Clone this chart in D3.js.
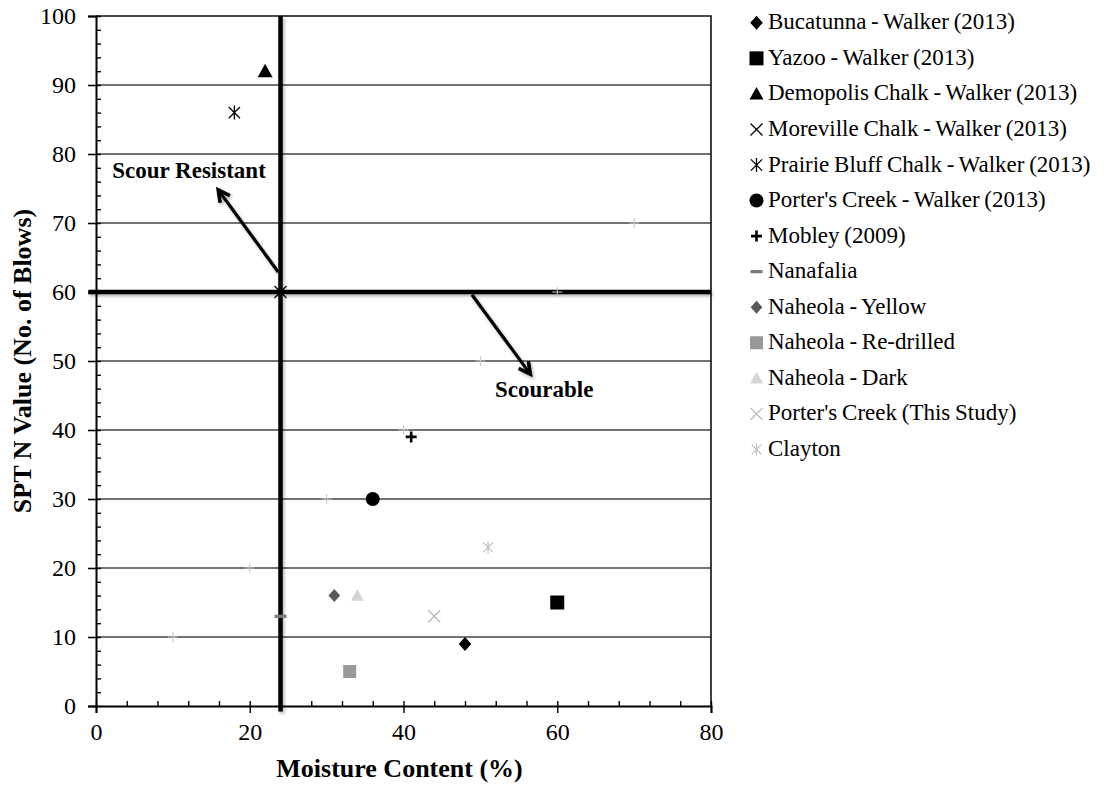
<!DOCTYPE html>
<html>
<head>
<meta charset="utf-8">
<script src="https://cdn.jsdelivr.net/npm/d3@7"></script>
<style>
  html, body { margin: 0; padding: 0; background: #fff; }
  svg { display: block; }
  text { font-family: "Liberation Serif", "Times New Roman", "DejaVu Serif", serif; fill: #000; }
</style>
</head>
<body>
<svg id="chart" width="1107" height="785"></svg>
<script>
// ---------------- DATA ----------------
const seriesNames = [
  "Bucatunna - Walker (2013)",
  "Yazoo - Walker (2013)",
  "Demopolis Chalk - Walker (2013)",
  "Moreville Chalk - Walker (2013)",
  "Prairie Bluff Chalk - Walker (2013)",
  "Porter's Creek - Walker (2013)",
  "Mobley (2009)",
  "Nanafalia",
  "Naheola - Yellow",
  "Naheola - Re-drilled",
  "Naheola - Dark",
  "Porter's Creek (This Study)",
  "Clayton"
];
const seriesMoisture = [[48], [60], [22], [24], [18], [36], [41], [24], [31], [33], [34], [44], [51]];
const seriesSpt      = [[9],  [15], [92], [60], [86], [30], [39], [13], [16], [5],  [16], [13], [23]];

// faint unlabeled reference markers (1:1)
const refMoisture = [10, 20, 30, 40, 50, 60, 70];
const refSpt      = [10, 20, 30, 40, 50, 60, 70];

const xTicks = [0, 20, 40, 60, 80];
const yTicks = [0, 10, 20, 30, 40, 50, 60, 70, 80, 90, 100];
const xTitle = "Moisture Content (%)";
const yTitle = "SPT N Value (No. of Blows)";

const moistureThreshold = 24;
const sptThreshold = 60;

const annotationLabels = ["Scour Resistant", "Scourable"];
const annotationAt = [[12.1, 76.5], [58.3, 44.8]];
const arrowFrom = [[23.7, 62.9], [48.9, 59.6]];
const arrowTo   = [[15.9, 74.8], [56.5, 48.1]];

// ---------------- STYLES ----------------
const seriesStyle = [
  {type: "diamond",  size: 14, color: "#000"},
  {type: "square",   size: 14, color: "#000"},
  {type: "triangle", size: 15, color: "#000"},
  {type: "x",        size: 12, color: "#000"},
  {type: "asterisk", size: 14, color: "#000"},
  {type: "circle",   size: 14, color: "#000"},
  {type: "plus",     size: 11, color: "#000"},
  {type: "dash",     size: 12, color: "#7a7a7a"},
  {type: "diamond",  size: 13, color: "#595959"},
  {type: "square",   size: 13, color: "#999999"},
  {type: "triangle", size: 13, color: "#d6d6d6"},
  {type: "x",        size: 12, color: "#b8b8b8"},
  {type: "asterisk", size: 12, color: "#c4c4c4"}
];

const svg = d3.select("#chart");
const L = 96, R = 711, T = 16, B = 706;
const x = d3.scaleLinear().domain([0, 80]).range([L, R]);
const y = d3.scaleLinear().domain([0, 100]).range([B, T]);

const defs = svg.append("defs");
const f = defs.append("filter").attr("id", "shadow").attr("x", "-10%").attr("y", "-10%").attr("width", "120%").attr("height", "120%");
f.append("feDropShadow").attr("dx", 1.5).attr("dy", 2).attr("stdDeviation", 1.5).attr("flood-color", "#000").attr("flood-opacity", 0.3);

function drawMarker(g, type, s, color) {
  const h = s / 2;
  switch (type) {
    case "diamond":
      g.append("path").attr("d", `M0,${-h}L${h*0.9},0L0,${h}L${-h*0.9},0Z`).attr("fill", color);
      break;
    case "square":
      g.append("rect").attr("x", -h).attr("y", -h).attr("width", s).attr("height", s).attr("fill", color);
      break;
    case "triangle":
      g.append("path").attr("d", `M0,${-h}L${h},${h*0.8}L${-h},${h*0.8}Z`).attr("fill", color);
      break;
    case "circle":
      g.append("circle").attr("r", h).attr("fill", color);
      break;
    case "x":
      g.append("path").attr("d", `M${-h},${-h}L${h},${h}M${-h},${h}L${h},${-h}`).attr("stroke", color).attr("stroke-width", 1.3).attr("fill", "none");
      break;
    case "asterisk":
      g.append("path").attr("d", `M${-h*0.8},${-h*0.8}L${h*0.8},${h*0.8}M${-h*0.8},${h*0.8}L${h*0.8},${-h*0.8}M0,${-h}L0,${h}`).attr("stroke", color).attr("stroke-width", 1.3).attr("fill", "none");
      break;
    case "plus":
      g.append("path").attr("d", `M${-h},0L${h},0M0,${-h}L0,${h}`).attr("stroke", color).attr("stroke-width", 2.6).attr("fill", "none");
      break;
    case "dash":
      g.append("path").attr("d", `M${-h},0L${h},0`).attr("stroke", color).attr("stroke-width", 3.2).attr("fill", "none");
      break;
    case "thinplus":
      g.append("path").attr("d", `M${-h},0L${h},0M0,${-h}L0,${h}`).attr("stroke", color).attr("stroke-width", 1).attr("fill", "none");
      break;
  }
}

// ---------------- GRID ----------------
svg.append("g").selectAll("line").data(yTicks.filter(v => v > 0 && v < 100)).join("line")
  .attr("x1", L).attr("x2", R).attr("y1", d => y(d)).attr("y2", d => y(d))
  .attr("stroke", "#444").attr("stroke-width", 1.4);

// border top and right
svg.append("path").attr("d", `M${L},${y(100)}L${R},${y(100)}L${R},${B}`)
  .attr("fill", "none").attr("stroke", "#111").attr("stroke-width", 1.6);

// ---------------- AXES ----------------
const minorY = d3.range(0, 101, 2);
const minorX = d3.range(0, 81, 4);
const serif = '"Liberation Serif","Times New Roman",serif';

const yAxis = svg.append("g").attr("transform", `translate(${L},0)`)
  .call(d3.axisLeft(y).tickValues(yTicks).tickSize(8).tickPadding(12).tickFormat(d3.format("d")));
yAxis.attr("font-family", null);
yAxis.select(".domain").attr("stroke", "#000").attr("stroke-width", 2);
yAxis.selectAll(".tick line").attr("stroke", "#000").attr("stroke-width", 1.6);
yAxis.selectAll("text").attr("font-size", 24).style("font-family", serif);

const yMinor = svg.append("g").attr("transform", `translate(${L},0)`)
  .call(d3.axisRight(y).tickValues(minorY).tickSize(5).tickFormat(""));
yMinor.select(".domain").remove();
yMinor.selectAll(".tick line").attr("stroke", "#000").attr("stroke-width", 1.4);

const xAxis = svg.append("g").attr("transform", `translate(0,${B})`)
  .call(d3.axisBottom(x).tickValues(xTicks).tickSize(7).tickPadding(10).tickFormat(d3.format("d")));
xAxis.attr("font-family", null);
xAxis.select(".domain").attr("stroke", "#000").attr("stroke-width", 2);
xAxis.selectAll(".tick line").attr("stroke", "#000").attr("stroke-width", 1.4);
xAxis.selectAll("text").attr("font-size", 24).style("font-family", serif);

const xMinor = svg.append("g").attr("transform", `translate(0,${B})`)
  .call(d3.axisTop(x).tickValues(minorX).tickSize(5).tickFormat(""));
xMinor.select(".domain").remove();
xMinor.selectAll(".tick line").attr("stroke", "#000").attr("stroke-width", 1.4);

// ---------------- THRESHOLD LINES ----------------
const thr = svg.append("g").attr("filter", "url(#shadow)");
thr.append("line")
  .attr("x1", x(-1)).attr("x2", x(80)).attr("y1", y(sptThreshold)).attr("y2", y(sptThreshold))
  .attr("stroke", "#000").attr("stroke-width", 4.5);
thr.append("line")
  .attr("x1", x(moistureThreshold)).attr("x2", x(moistureThreshold)).attr("y1", y(100)).attr("y2", y(-0.8))
  .attr("stroke", "#000").attr("stroke-width", 4.5);

// ---------------- REFERENCE MARKERS ----------------
refMoisture.forEach((mx, i) => {
  const g = svg.append("g").attr("transform", `translate(${x(mx)},${y(refSpt[i])})`);
  drawMarker(g, "thinplus", 10, "#c4c4c4");
});

// ---------------- SERIES ----------------
seriesNames.forEach((name, si) => {
  const st = seriesStyle[si];
  seriesMoisture[si].forEach((mx, j) => {
    const g = svg.append("g").attr("class", "pt").attr("transform", `translate(${x(mx)},${y(seriesSpt[si][j])})`);
    drawMarker(g, st.type, st.size, st.color);
  });
});

// ---------------- ARROWS ----------------
arrowFrom.forEach((p0, i) => {
  const p1 = arrowTo[i];
  const x0 = x(p0[0]), y0 = y(p0[1]), x1 = x(p1[0]), y1 = y(p1[1]);
  const ang = Math.atan2(y1 - y0, x1 - x0);
  const len = 13, spread = Math.PI / 6.5;
  const a1 = [x1 - len * Math.cos(ang - spread), y1 - len * Math.sin(ang - spread)];
  const a2 = [x1 - len * Math.cos(ang + spread), y1 - len * Math.sin(ang + spread)];
  const g = svg.append("g").attr("filter", "url(#shadow)");
  g.append("line").attr("x1", x0).attr("y1", y0).attr("x2", x1 - 1.5 * Math.cos(ang)).attr("y2", y1 - 1.5 * Math.sin(ang))
    .attr("stroke", "#000").attr("stroke-width", 3.2);
  g.append("path").attr("d", `M${a1[0]},${a1[1]}L${x1},${y1}L${a2[0]},${a2[1]}`)
    .attr("fill", "none").attr("stroke", "#000").attr("stroke-width", 3.6).attr("stroke-linejoin", "miter");
});

// ---------------- ANNOTATION TEXT ----------------
annotationLabels.forEach((t, i) => {
  svg.append("text").attr("x", x(annotationAt[i][0])).attr("y", y(annotationAt[i][1]))
    .attr("text-anchor", "middle").attr("font-size", 23).attr("font-weight", "bold").text(t);
});

// ---------------- AXIS TITLES ----------------
svg.append("text").attr("x", (L + R) / 2 - 4).attr("y", 777)
  .attr("text-anchor", "middle").attr("font-size", 26).attr("font-weight", "bold").text(xTitle);
svg.append("text").attr("transform", `translate(31,${(T + B) / 2})rotate(-90)`)
  .attr("text-anchor", "middle").attr("font-size", 26).attr("font-weight", "bold").text(yTitle);

// ---------------- LEGEND ----------------
const legend = svg.append("g");
seriesNames.forEach((name, i) => {
  const base = 29.3 + i * 35.55;
  const st = seriesStyle[i];
  const g = legend.append("g").attr("transform", `translate(756.5,${base - 6.5})`);
  drawMarker(g, st.type, Math.min(st.size, 14), st.color);
  legend.append("text").attr("x", 768).attr("y", base).attr("font-size", 23).attr("word-spacing", -1).text(name);
});
</script>
</body>
</html>
